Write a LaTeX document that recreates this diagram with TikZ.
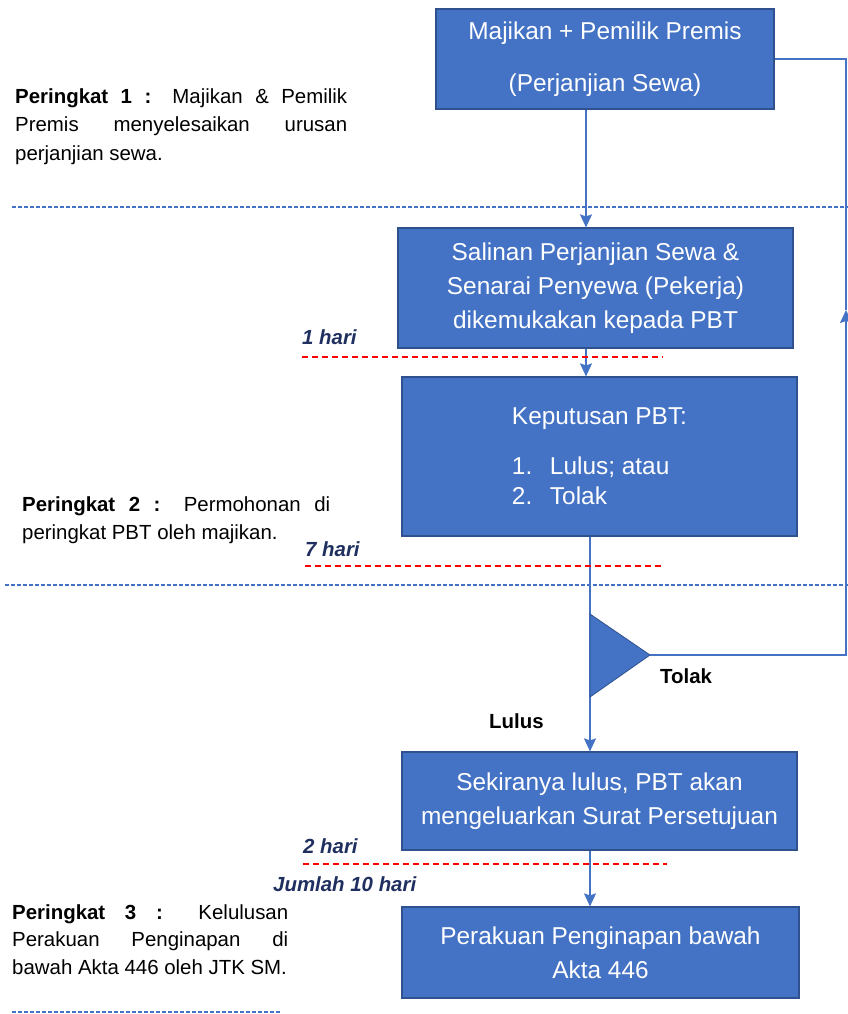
\documentclass[tikz,border=0pt]{standalone}
\usepackage{fontspec}
\setmainfont{Liberation Sans}
\usetikzlibrary{arrows.meta}
\definecolor{boxblue}{HTML}{4472C4}
\definecolor{boxedge}{HTML}{2F528F}
\definecolor{harinavy}{HTML}{1F2F5F}
\newcommand{\boxfont}{\fontsize{24.5}{34}\selectfont}
\newcommand{\notefont}{\fontsize{20.5}{29}\selectfont}
\tikzset{
    stepbox/.style={draw=boxedge, line width=1.2bp, fill=boxblue, text=white,
        font=\boxfont, align=center, inner sep=0pt},
    flow/.style={draw=boxblue, line width=1.6bp, -{Stealth[length=13bp,width=12bp,inset=2bp]}},
    link/.style={draw=boxblue, line width=1.6bp},
    stagenote/.style={font=\notefont, align=justify, anchor=north west, inner sep=0pt},
    hari/.style={font=\notefont\bfseries\itshape, text=harinavy, anchor=base west, inner sep=0pt},
    answer/.style={font=\notefont\bfseries, anchor=base west, inner sep=0pt},
    dayline/.style={draw=red, line width=1.3bp, dash pattern=on 6bp off 4bp},
    stageline/.style={draw=boxblue, line width=1.3bp, dash pattern=on 4bp off 2bp}
}
\begin{document}
\begin{tikzpicture}[x=1bp, y=-1bp]
    \useasboundingbox (0,0) rectangle (848,1014);
    % boxes of the flow
    \node[stepbox, minimum width=338bp, minimum height=100bp] (permis) at (605,59)
        {Majikan + Pemilik Premis\\[18bp](Perjanjian Sewa)};
    \node[stepbox, minimum width=395bp, minimum height=120bp] (salinan) at (595.5,288)
        {Salinan Perjanjian Sewa \&\\Senarai Penyewa (Pekerja)\\dikemukakan kepada PBT};
    \node[stepbox, align=left, minimum width=395bp, minimum height=159bp] (keputusan) at (599.5,456.5)
        {Keputusan PBT:\\[16bp]\makebox[38bp][l]{1.}Lulus; atau\\[-4bp]\makebox[38bp][l]{2.}Tolak};
    \node[stepbox, minimum width=395bp, minimum height=98bp] (lulus) at (599.5,801)
        {Sekiranya lulus, PBT akan\\mengeluarkan Surat Persetujuan};
    \node[stepbox, minimum width=397bp, minimum height=91bp] (perakuan) at (600.5,952.5)
        {Perakuan Penginapan bawah\\Akta 446};
    % spines and the reject loop
    \coordinate (spineA) at (586,0);
    \coordinate (spineB) at (590,0);
    \coordinate (tip) at (650,655);
    \coordinate (back) at (846,310);
    \draw[flow] (permis.south -| spineA) -- (salinan.north -| spineA);
    \draw[flow] (salinan.south -| spineA) -- (keputusan.north -| spineA);
    \draw[flow] (keputusan.south -| spineB) -- (lulus.north -| spineB);
    \draw[flow] (lulus.south -| spineB) -- (perakuan.north -| spineB);
    \filldraw[fill=boxblue, draw=boxedge, line width=0.8bp] (590,614) -- (tip) -- (590,697) -- cycle;
    \draw[flow] (tip) -| (back);
    \draw[link] (permis.east) -| (back);
    \node[answer] (tolak) at (660,683) {Tolak};
    \node[answer] (lulustext) at (489,728) {Lulus};
    % days
    \node[hari] (hari1) at (302,344) {1 hari};
    \node[hari] (hari7) at (305,556) {7 hari};
    \node[hari] (hari2) at (303,853) {2 hari};
    \node[hari] (jumlah) at (273,891) {Jumlah 10 hari};
    \draw[dayline] (302,357) -- (663,357);
    \draw[dayline] (305,566) -- (665,566);
    \draw[dayline] (303,864) -- (667,864);
    % stages
    \node[stagenote, text width=332bp] (stage1) at (15,88)
        {\textbf{Peringkat 1 :} Majikan \& Pemilik\linebreak Premis menyelesaikan urusan\linebreak perjanjian sewa.};
    \node[stagenote, text width=308bp] (stage2) at (22,496)
        {\textbf{Peringkat 2 :} Permohonan di\linebreak peringkat PBT oleh majikan.};
    \node[stagenote, text width=276bp, font=\fontsize{20.5}{28}\selectfont] (stage3) at (12,904)
        {\textbf{Peringkat 3 :} Kelulusan\linebreak Perakuan Penginapan di\linebreak bawah Akta 446 oleh JTK SM.};
    \draw[stageline] (12,207) -- (848,207);
    \draw[stageline] (5,585) -- (848,585);
    \draw[stageline] (12,1012) -- (280,1012);
\end{tikzpicture}
\end{document}
